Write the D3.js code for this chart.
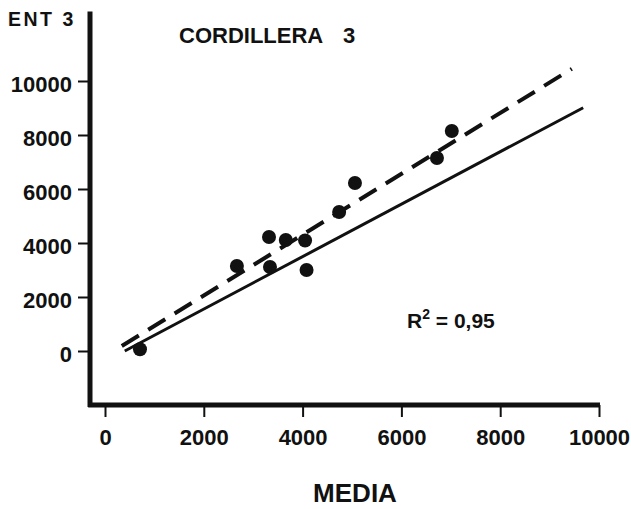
<!DOCTYPE html>
<meta charset="utf-8">
<script src="https://d3js.org/d3.v7.min.js"></script>
<style>
  body { margin: 0; background: #fff; }
  text { font-family: "Liberation Sans", Arial, Helvetica, sans-serif; font-weight: bold; fill: #111; }
</style>
<div id="chart"></div>
<script>

// Observed values: MEDIA (x) vs ENT 3 (y)
var media = [708, 2670, 3320, 3340, 3660, 4050, 4080, 4740, 5060, 6720, 7020];
var ent3  = [63, 3150, 4220, 3110, 4110, 4090, 3000, 5150, 6220, 7150, 8150];

// Regression lines (end points)
var solidLine  = [[400, 0], [9680, 9010]];
var dashedLine = [[340, 185], [9450, 10450]];

var xTicks = [0, 2000, 4000, 6000, 8000, 10000];
var yTicks = [0, 2000, 4000, 6000, 8000, 10000];

var width = 631, height = 509;

var svg = d3.select("#chart")
  .append("svg")
  .attr("width", width)
  .attr("height", height);

var x = d3.scaleLinear().domain([0, 10000]).range([105, 599]);
var y = d3.scaleLinear().domain([0, 10000]).range([351, 81]);

// Axes
var xAxis = svg.append("g")
  .attr("transform", "translate(0,405)")
  .call(d3.axisBottom(x).tickValues(xTicks).tickSize(12).tickPadding(12).tickFormat(d3.format("d")));
xAxis.select(".domain").remove();
xAxis.selectAll("line").attr("stroke", "#111").attr("stroke-width", 2);
xAxis.selectAll("text").style("font-size", "22px").attr("fill", "#111");

var yAxis = svg.append("g")
  .attr("transform", "translate(90,0)")
  .call(d3.axisLeft(y).tickValues(yTicks).tickSize(12).tickPadding(6).tickFormat(d3.format("d")));
yAxis.select(".domain").remove();
yAxis.selectAll("line").attr("stroke", "#111").attr("stroke-width", 2);
yAxis.selectAll("text").style("font-size", "22px").attr("fill", "#111").attr("dy", "0.46em");

// thick axis lines
svg.append("line")
  .attr("x1", 90).attr("x2", 90)
  .attr("y1", y(12570)).attr("y2", 407)
  .attr("stroke", "#111").attr("stroke-width", 5);
svg.append("line")
  .attr("x1", x(-340)).attr("x2", x(10020))
  .attr("y1", 405).attr("y2", 405)
  .attr("stroke", "#111").attr("stroke-width", 5);

// regression lines
var line = d3.line().x(function(d) { return x(d[0]); }).y(function(d) { return y(d[1]); });

svg.append("path")
  .attr("d", line(solidLine))
  .attr("fill", "none")
  .attr("stroke", "#111")
  .attr("stroke-width", 3);

svg.append("path")
  .attr("d", line(dashedLine))
  .attr("fill", "none")
  .attr("stroke", "#111")
  .attr("stroke-width", 4)
  .attr("stroke-dasharray", "20,11");

// points
svg.selectAll("circle.pt")
  .data(media)
  .enter()
  .append("circle")
  .attr("class", "pt")
  .attr("cx", function(d) { return x(d); })
  .attr("cy", function(d, i) { return y(ent3[i]); })
  .attr("r", 7)
  .attr("fill", "#111");

// texts
svg.append("text")
  .attr("x", 8).attr("y", 26)
  .style("font-size", "19.5px")
  .style("letter-spacing", "2.5px")
  .text("ENT 3");

svg.append("text")
  .attr("x", 179).attr("y", 43)
  .style("font-size", "22px")
  .text("CORDILLERA");
svg.append("text")
  .attr("x", 343).attr("y", 43)
  .style("font-size", "22px")
  .text("3");

var r2 = svg.append("text")
  .attr("x", 407).attr("y", 328)
  .style("font-size", "21px");
r2.append("tspan").text("R");
r2.append("tspan").attr("dy", -9).style("font-size", "14px").text("2");
r2.append("tspan").attr("dy", 9).text(" = 0,95");

svg.append("text")
  .attr("x", 355).attr("y", 502)
  .attr("text-anchor", "middle")
  .style("font-size", "26px")
  .text("MEDIA");

</script>
